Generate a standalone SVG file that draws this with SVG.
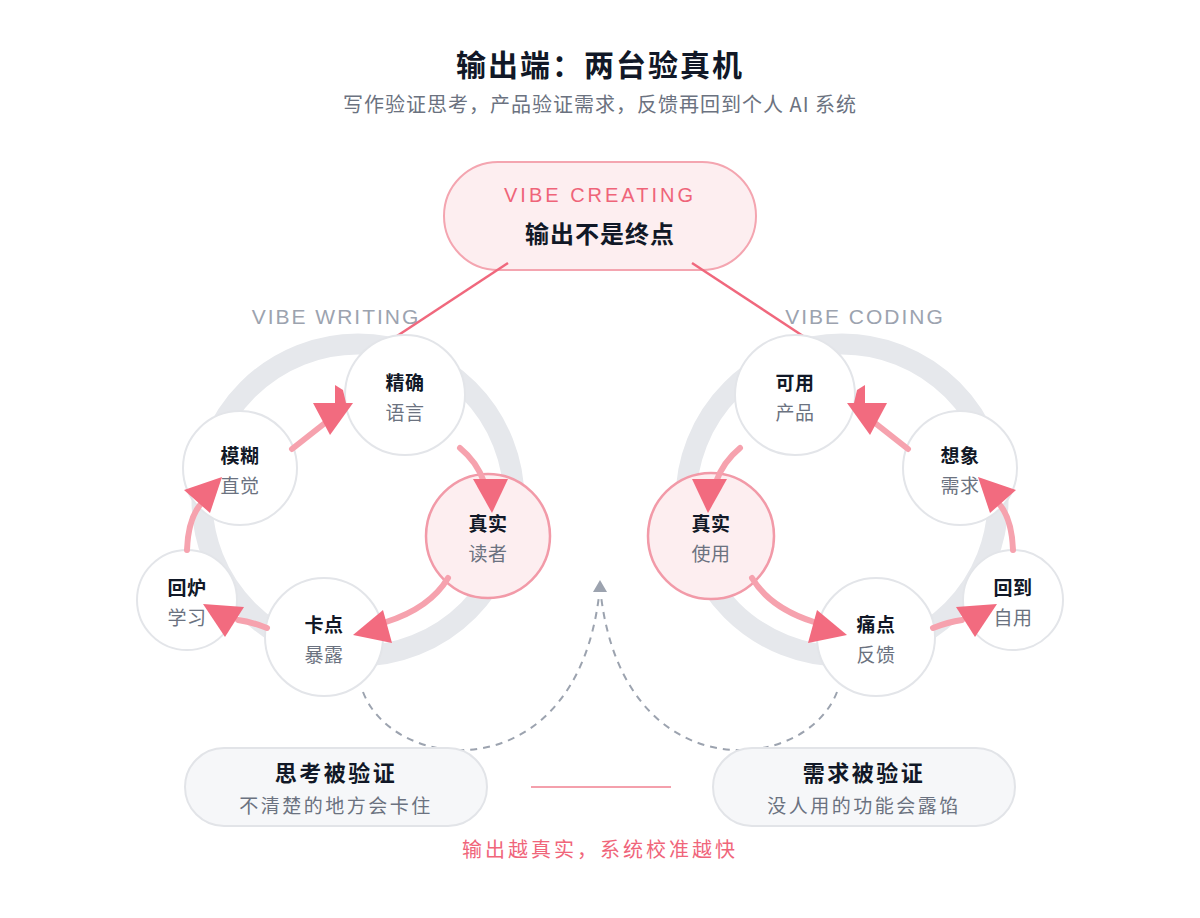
<svg xmlns="http://www.w3.org/2000/svg" width="1200" height="918" viewBox="0 0 1200 918">
<style>
.cjk{font-family:'Noto Sans CJK SC','Noto Sans',sans-serif}
.lat{font-family:'Liberation Sans','Noto Sans CJK SC',sans-serif}
.ring{fill:none;stroke:#e6e8ec;stroke-width:21}
.node{fill:#ffffff;stroke:#e3e5e9;stroke-width:2}
.hot{fill:#fdeef0;stroke:#f29aa8;stroke-width:2.5}
.nt{font-size:19px;font-weight:700;fill:#111827;text-anchor:middle;letter-spacing:0.5px}
.ns{font-size:19px;fill:#6b7280;text-anchor:middle;letter-spacing:0.5px}
.al{fill:none;stroke:#f6a2ae;stroke-width:6;stroke-linecap:round}
.ah{fill:#f26b7f}
.dash{fill:none;stroke:#9ca3af;stroke-width:2;stroke-dasharray:7 6}
.tl{stroke:#f0687d;stroke-width:2.5;fill:none}
.pill{fill:#f6f7f9;stroke:#e2e4e8;stroke-width:2}
</style>
<rect width="1200" height="918" fill="#ffffff"/>

<text class="cjk" x="600" y="76" font-size="30" font-weight="700" fill="#111827" text-anchor="middle" letter-spacing="2">输出端：两台验真机</text>
<text class="cjk" x="600" y="112" font-size="20" fill="#6b7280" text-anchor="middle" letter-spacing="1">写作验证思考，产品验证需求，反馈再回到个人 AI 系统</text>

<g id="rings">
<circle class="ring" cx="358" cy="500" r="156"/>
<circle class="ring" cx="842" cy="500" r="156"/>
</g>

<g id="vibe-creating">
<rect x="444" y="162" width="312" height="108" rx="54" fill="#fdeef0" stroke="#f4a5b0" stroke-width="2"/>
<text class="lat" x="600" y="202" font-size="20" fill="#ef6479" text-anchor="middle" letter-spacing="3">VIBE CREATING</text>
<text class="cjk" x="600" y="243" font-size="24" font-weight="700" fill="#111827" text-anchor="middle" letter-spacing="1">输出不是终点</text>
</g>

<text class="lat" x="336" y="324" font-size="21" fill="#9ca3af" text-anchor="middle" letter-spacing="2">VIBE WRITING</text>
<text class="lat" x="865" y="324" font-size="21" fill="#9ca3af" text-anchor="middle" letter-spacing="2">VIBE CODING</text>

<g id="top-links">
<path class="tl" d="M508 263 L397 336"/>
<path class="tl" d="M692 263 L803 336"/>
</g>

<g id="n-jingque"><circle class="node" cx="405" cy="395" r="60"/><text class="cjk nt" x="405" y="390">精确</text><text class="cjk ns" x="405" y="420">语言</text></g>
<g id="n-mohu"><circle class="node" cx="240" cy="468" r="57"/><text class="cjk nt" x="240" y="463">模糊</text><text class="cjk ns" x="240" y="493">直觉</text></g>
<g id="n-zhenshi-w"><circle class="hot" cx="488" cy="536" r="62"/><text class="cjk nt" x="488" y="531">真实</text><text class="cjk ns" x="488" y="561">读者</text></g>
<g id="n-huilu"><circle class="node" cx="187" cy="600" r="50"/><text class="cjk nt" x="187" y="595">回炉</text><text class="cjk ns" x="187" y="625">学习</text></g>
<g id="n-kadian"><circle class="node" cx="324" cy="637" r="59"/><text class="cjk nt" x="324" y="632">卡点</text><text class="cjk ns" x="324" y="662">暴露</text></g>

<g id="n-keyong"><circle class="node" cx="795" cy="395" r="60"/><text class="cjk nt" x="795" y="390">可用</text><text class="cjk ns" x="795" y="420">产品</text></g>
<g id="n-xiangxiang"><circle class="node" cx="960" cy="468" r="57"/><text class="cjk nt" x="960" y="463">想象</text><text class="cjk ns" x="960" y="493">需求</text></g>
<g id="n-zhenshi-c"><circle class="hot" cx="711" cy="536" r="63"/><text class="cjk nt" x="711" y="531">真实</text><text class="cjk ns" x="711" y="561">使用</text></g>
<g id="n-huidao"><circle class="node" cx="1013" cy="600" r="50"/><text class="cjk nt" x="1013" y="595">回到</text><text class="cjk ns" x="1013" y="625">自用</text></g>
<g id="n-tongdian"><circle class="node" cx="876" cy="637" r="59"/><text class="cjk nt" x="876" y="632">痛点</text><text class="cjk ns" x="876" y="662">反馈</text></g>

<g id="connectors">
<path class="al" d="M292 449 L325 423"/>
<polygon class="ah" points="313,403 353,403 330,435"/>
<polygon class="ah" points="335,385 343,390 346,403 335,403"/>
<path class="al" d="M460 448 Q477 462 484 482"/>
<polygon class="ah" points="473,479 508,479 492,513"/>
<path class="al" d="M448 578 Q430 608 386 622"/>
<polygon class="ah" points="353,635 383,610 392,643"/>
<path class="al" d="M267 628 Q252 622 238 620"/>
<polygon class="ah" points="203,604 244,607 225,637"/>
<path class="al" d="M187 550 Q188 520 200 505"/>
<polygon class="ah" points="184,490 222,477 210,513"/>

<path class="al" d="M908 449 L875 423"/>
<polygon class="ah" points="887,403 847,403 870,435"/>
<polygon class="ah" points="865,385 857,390 854,403 865,403"/>
<path class="al" d="M740 448 Q723 462 716 482"/>
<polygon class="ah" points="727,479 692,479 708,513"/>
<path class="al" d="M752 578 Q770 608 814 622"/>
<polygon class="ah" points="847,635 817,610 808,643"/>
<path class="al" d="M933 628 Q948 622 962 620"/>
<polygon class="ah" points="997,604 956,607 975,637"/>
<path class="al" d="M1013 550 Q1012 520 1000 505"/>
<polygon class="ah" points="1016,490 978,477 990,513"/>

<path class="dash" d="M363 692 C395 775 575 790 599 596"/>
<path class="dash" d="M837 692 C805 775 625 790 601 596"/>
<polygon points="593,592 607,592 600,580" fill="#9ca3af"/>
<path d="M531 787 L671 787" stroke="#f4a0ac" stroke-width="2"/>
</g>

<g id="verified-thinking">
<rect class="pill" x="185" y="748" width="302" height="78" rx="39"/>
<text class="cjk" x="336" y="781" font-size="22" font-weight="700" fill="#111827" text-anchor="middle" letter-spacing="2.5">思考被验证</text>
<text class="cjk" x="336" y="813" font-size="19" fill="#6b7280" text-anchor="middle" letter-spacing="2.5">不清楚的地方会卡住</text>
</g>
<g id="verified-needs">
<rect class="pill" x="713" y="748" width="302" height="78" rx="39"/>
<text class="cjk" x="864" y="781" font-size="22" font-weight="700" fill="#111827" text-anchor="middle" letter-spacing="2.5">需求被验证</text>
<text class="cjk" x="864" y="813" font-size="19" fill="#6b7280" text-anchor="middle" letter-spacing="2.5">没人用的功能会露馅</text>
</g>

<text class="cjk" x="600" y="857" font-size="20" fill="#f0657a" text-anchor="middle" letter-spacing="3">输出越真实，系统校准越快</text>
</svg>
